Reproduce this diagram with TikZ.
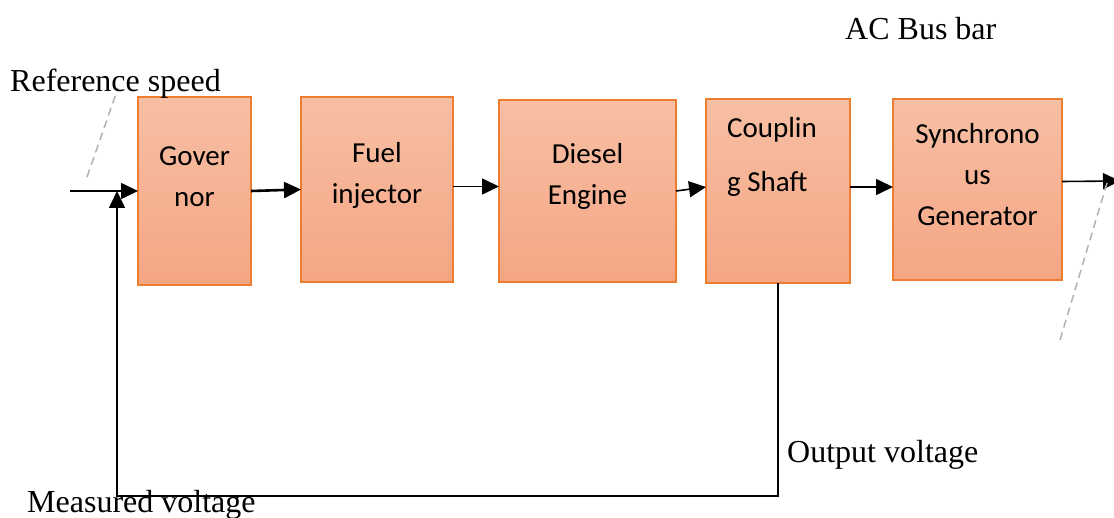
\documentclass[tikz,border=0pt]{standalone}
\usepackage{fontspec}
\setmainfont{Liberation Serif}
\newfontfamily\blockfont{Carlito}
\usetikzlibrary{positioning,arrows.meta}
\definecolor{blockedge}{HTML}{ED7D31}
\definecolor{blocktop}{HTML}{F7BFA4}
\definecolor{blockbot}{HTML}{F5A684}

\begin{document}
\begin{tikzpicture}[x=1pt, y=-1pt,
    block/.style={draw=blockedge, line width=1.5pt, rectangle, inner sep=0pt, outer sep=0pt, top color=blocktop, bottom color=blockbot},
    blocktext/.style={font=\blockfont\fontsize{29}{41}\selectfont, align=center, inner sep=0pt},
    flow/.style={line width=1.6pt, -{Triangle[length=17pt,width=16pt]}},
    busline/.style={gray!60, line width=1.5pt, dash pattern=on 8pt off 5pt},
    lbl/.style={font=\fontsize{32}{38}\selectfont, inner sep=0pt}]
    \useasboundingbox (0,0) rectangle (1114,518);

    % Blocks
    \node[block, minimum width=113pt, minimum height=188pt, label={[blocktext, yshift=14pt]center:{Gover\\nor}}] (gov) at (194.5,191) {};
    \node[block, minimum width=152pt, minimum height=185pt, right=50pt of gov, yshift=1.5pt, label={[blocktext, yshift=14.5pt]center:{Fuel\\injector}}] (fuel) {};
    \node[block, minimum width=177pt, minimum height=182pt, right=46pt of fuel, yshift=-1.5pt, label={[blocktext, yshift=14.5pt]center:{Diesel\\Engine}}] (eng) {};
    \node[block, minimum width=144pt, minimum height=184pt, right=30pt of eng, label={[blocktext, align=left, xshift=-6pt, yshift=34pt]center:{Couplin\\[13pt]g Shaft}}] (cpl) {};
    \node[block, minimum width=169pt, minimum height=181pt, right=43pt of cpl, yshift=1.5pt, label={[blocktext, yshift=14.5pt]center:{Synchrono\\us\\Generator}}] (gen) {};

    % Free ends
    \coordinate (in) at (70,191);
    \coordinate (bus) at (1120,181);
    \coordinate (fb) at (117,496);
    \coordinate (refa) at (87,177);
    \coordinate (refb) at (118,88);
    \coordinate (busa) at (1060,340);
    \coordinate (busb) at (1107,183);

    % Arrows
    \draw[flow] (in) -- (gov.west);
    \draw[flow, line width=2.6pt] (gov.east) -- (fuel.west);
    \draw[flow] ([yshift=3pt]fuel.east) -- ([yshift=3pt]fuel.east -| eng.west);
    \draw[flow] (eng.east) -- ([yshift=4pt]cpl.west);
    \draw[flow] ([yshift=4pt]cpl.east) -- ([yshift=4pt]cpl.east -| gen.west);
    \draw[flow] ([yshift=8pt]gen.east) -- (bus);
    \draw[flow] (cpl.south) |- (fb) -- (fb |- gov.west);

    % Dashed marks
    \draw[busline] (refa) -- (refb);
    \draw[busline] (busa) -- (busb);

    % Labels
    \node[lbl, anchor=base west] (refspd) at (10,92) {Reference speed};
    \node[lbl, anchor=base west] (acbus) at (845,40) {AC Bus bar};
    \node[lbl, anchor=base west] (outv) at (787,463) {Output voltage};
    \node[lbl, anchor=base west] (measv) at (27,512) {Measured voltage};
\end{tikzpicture}
\end{document}
